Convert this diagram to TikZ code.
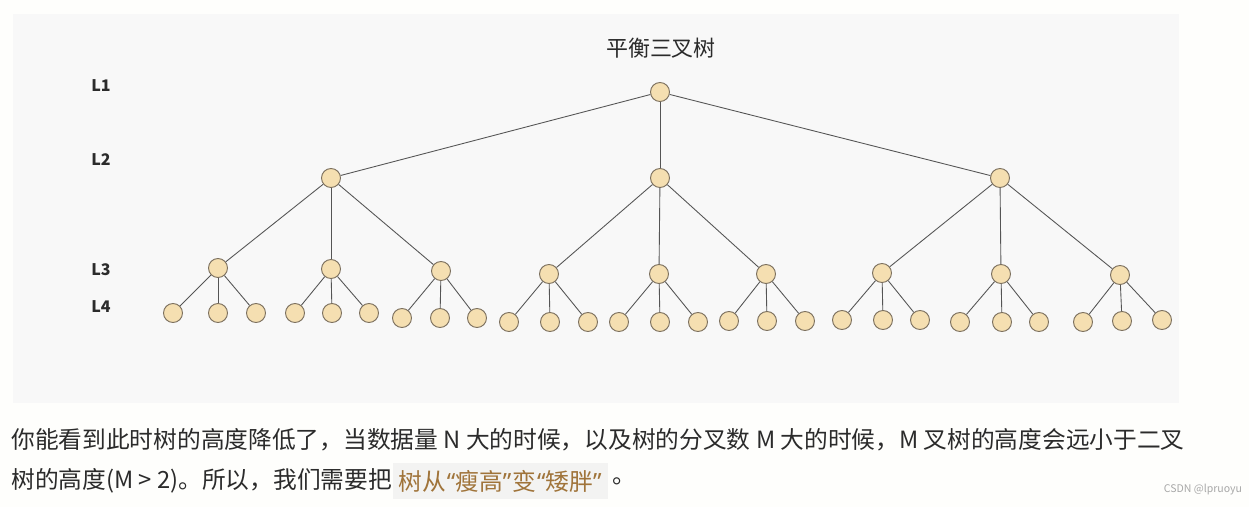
\documentclass[tikz,border=0pt]{standalone}
\usepackage{fontspec}
\setmainfont{Noto Sans CJK SC}
\newfontfamily\quotefont{Noto Sans}
\usetikzlibrary{positioning}
\definecolor{TTpage}{HTML}{FEFEFC}
\definecolor{TTpanel}{HTML}{F8F8F8}
\definecolor{TTnode}{HTML}{F5DFB1}
\definecolor{TTring}{HTML}{7D715F}
\definecolor{TTedge}{HTML}{555555}
\definecolor{TTink}{HTML}{2B2B2B}
\definecolor{TTbrown}{HTML}{A0743A}
\definecolor{TTmark}{HTML}{F3F3F2}
\definecolor{TTwater}{HTML}{A8A8A8}
\newcommand{\openq}{{\quotefont\kern0.6pt“}}
\newcommand{\closeq}{{\quotefont ”\kern0.6pt}}
\tikzset{
  treenode/.style={circle, draw=TTring, fill=TTnode, line width=0.55pt, minimum size=0.38cm, inner sep=0pt},
  treeedge/.style={draw=TTedge, line width=0.5pt},
  levellabel/.style={font=\fontsize{9.1}{10}\selectfont\bfseries, text=TTink, inner sep=0pt},
  bodytext/.style={font=\fontsize{13.5}{15}\selectfont, text=TTink, inner sep=0pt, anchor=west},
  markbox/.style={fill=TTmark, text=TTbrown, font=\fontsize{13.5}{15}\selectfont, inner xsep=3pt, inner ysep=4pt}
}
\begin{document}
\begin{tikzpicture}[x=0.02cm, y=-0.02cm]
  \fill[TTpage] (0,0) rectangle (1249,507);
  \useasboundingbox (0,0) rectangle (1249,507);
  \fill[TTpanel] (13,14) rectangle (1179,403);

  % title and level labels
  \node[font=\fontsize{12.5}{14}\selectfont, text=TTink] (title) at (661,48) {平衡三叉树};
  \foreach \lv/\y in {1/86, 2/160, 3/270, 4/307}
    \node[levellabel] (lab\lv) at (101,\y) {L\lv};

  % the tree
  \node[treenode] (r) at (660,92) {};
  \foreach \name/\x/\y in {p1/331/178, p2/660/178, p3/1000/178}
    \node[treenode] (\name) at (\x,\y) {};
  \foreach \name/\x/\y in {q1/218/268, q2/331/269, q3/441/271, q4/549/274, q5/659/274,
                           q6/766/274, q7/882/273, q8/1001/274, q9/1120/275}
    \node[treenode] (\name) at (\x,\y) {};
  \foreach \name/\x/\y in {s1/173/313, s2/218/313, s3/256/313, s4/295/313, s5/332/313, s6/369/313,
                           s7/402/318, s8/440/318, s9/477/318, s10/509/322, s11/550/322, s12/588/322,
                           s13/619/322, s14/660/322, s15/698/322, s16/729/321, s17/767/321, s18/805/321,
                           s19/842/320, s20/883/320, s21/920/320, s22/960/322, s23/1002/322, s24/1039/322,
                           s25/1083/322, s26/1122/321, s27/1162/320}
    \node[treenode] (\name) at (\x,\y) {};

  \foreach \i in {1,2,3}
    \draw[treeedge] (r) -- (p\i);
  \foreach \k [evaluate=\k as \up using {int((\k+2)/3)}] in {1,...,9}
    \draw[treeedge] (p\up) -- (q\k);
  \foreach \k [evaluate=\k as \up using {int((\k+2)/3)}] in {1,...,27}
    \draw[treeedge] (q\up) -- (s\k);

  % text under the panel
  \node[bodytext] (line1) at (11,440) {你能看到此时树的高度降低了，当数据量 N 大的时候，以及树的分叉数 M 大的时候，M 叉树的高度会远小于二叉};
  \node[bodytext] (line2) at (11,481) {树的高度(M > 2)。所以，我们需要把};
  \node[markbox, right=0.01cm of line2] (hl) {树从\openq 瘦高\closeq 变\openq 矮胖\closeq};
  \node[bodytext, right=0.08cm of hl] (stop) {。};
  \node[font=\fontsize{6}{7}\selectfont, text=TTwater, inner sep=0pt] (water) at (1203,490) {CSDN @lpruoyu};
\end{tikzpicture}
\end{document}
